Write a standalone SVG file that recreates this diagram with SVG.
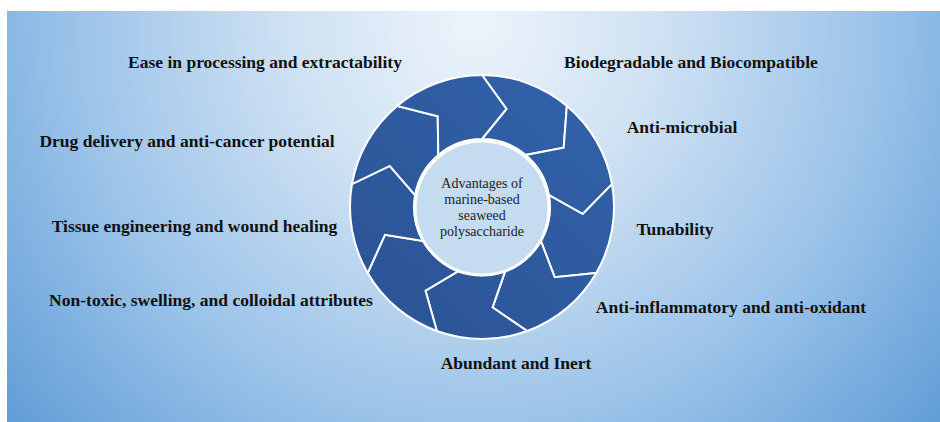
<svg xmlns="http://www.w3.org/2000/svg" width="940" height="422" viewBox="0 0 940 422">
  <defs>
    <radialGradient id="bgGrad" gradientUnits="userSpaceOnUse" cx="475" cy="25" r="620">
      <stop offset="0" stop-color="#edf4fb"/>
      <stop offset="0.3" stop-color="#cfe1f3"/>
      <stop offset="0.65" stop-color="#9bc3e9"/>
      <stop offset="1" stop-color="#5f9cd6"/>
    </radialGradient>
    <linearGradient id="segGrad" gradientUnits="userSpaceOnUse" x1="600" y1="80" x2="370" y2="330">
      <stop offset="0" stop-color="#3262aa"/>
      <stop offset="1" stop-color="#2b5394"/>
    </linearGradient>
  </defs>
  <style>
    .seg { fill: url(#segGrad); stroke: #ffffff; stroke-width: 2; stroke-linejoin: miter; }
    .label { font-family: "Liberation Serif", "Times New Roman", serif; font-weight: bold; font-size: 17.5px; fill: #111111; text-anchor: middle; }
    .center-text { font-family: "Liberation Serif", "Times New Roman", serif; font-size: 14px; fill: #222222; text-anchor: middle; }
  </style>

  <rect x="0" y="0" width="940" height="422" fill="#ffffff"/>
  <rect id="background" x="7" y="11" width="933" height="411" fill="url(#bgGrad)"/>

  <g id="ring">
    <g id="seg0"><path class="seg" d="M 482 75 A 132 132 0 0 1 566.85 105.89 L 563.71 147.63 L 525.71 154.91 A 68 68 0 0 0 482 139 L 506.43 109 Z"/></g>
    <g id="seg1"><path class="seg" d="M 566.85 105.89 A 132 132 0 0 1 612 184.08 L 582.76 214.05 L 548.97 195.2 A 68 68 0 0 0 525.71 154.91 L 563.71 147.63 Z"/></g>
    <g id="seg2"><path class="seg" d="M 612 184.08 A 132 132 0 0 1 596.31 273 L 554.65 277.16 L 540.89 241 A 68 68 0 0 0 548.97 195.2 L 582.76 214.05 Z"/></g>
    <g id="seg3"><path class="seg" d="M 596.31 273 A 132 132 0 0 1 527.14 331.04 L 492.55 307.44 L 505.26 270.9 A 68 68 0 0 0 540.89 241 L 554.65 277.16 Z"/></g>
    <g id="seg4"><path class="seg" d="M 527.14 331.04 A 132 132 0 0 1 436.86 331.04 L 425.52 290.73 L 458.74 270.9 A 68 68 0 0 0 505.26 270.9 L 492.55 307.44 Z"/></g>
    <g id="seg5"><path class="seg" d="M 436.86 331.04 A 132 132 0 0 1 367.69 273 L 384.91 234.84 L 423.11 241 A 68 68 0 0 0 458.74 270.9 L 425.52 290.73 Z"/></g>
    <g id="seg6"><path class="seg" d="M 367.69 273 A 132 132 0 0 1 352 184.08 L 389.74 165.92 L 415.03 195.2 A 68 68 0 0 0 423.11 241 L 384.91 234.84 Z"/></g>
    <g id="seg7"><path class="seg" d="M 352 184.08 A 132 132 0 0 1 397.15 105.89 L 437.72 116.22 L 438.29 154.91 A 68 68 0 0 0 415.03 195.2 L 389.74 165.92 Z"/></g>
    <g id="seg8"><path class="seg" d="M 397.15 105.89 A 132 132 0 0 1 482 75 L 506.43 109 L 482 139 A 68 68 0 0 0 438.29 154.91 L 437.72 116.22 Z"/></g>
  </g>

  <g id="connectors"></g>

  <g id="center">
    <circle cx="482" cy="208" r="67" fill="#c5dbf0" stroke="#ffffff" stroke-width="3"/>
    <text class="center-text" x="482" y="188">Advantages of</text>
    <text class="center-text" x="482" y="204">marine-based</text>
    <text class="center-text" x="482" y="220">seaweed</text>
    <text class="center-text" x="482" y="236">polysaccharide</text>
  </g>

  <g id="label-ease"><text class="label" x="265" y="68">Ease in processing and extractability</text></g>
  <g id="label-biodegradable"><text class="label" x="691" y="68">Biodegradable and Biocompatible</text></g>
  <g id="label-antimicrobial"><text class="label" x="682" y="133">Anti-microbial</text></g>
  <g id="label-drug"><text class="label" x="187" y="147">Drug delivery and anti-cancer potential</text></g>
  <g id="label-tissue"><text class="label" x="194.5" y="232">Tissue engineering and wound healing</text></g>
  <g id="label-tunability"><text class="label" x="675" y="235">Tunability</text></g>
  <g id="label-nontoxic"><text class="label" x="211" y="306">Non-toxic, swelling, and colloidal attributes</text></g>
  <g id="label-antiinflammatory"><text class="label" x="731" y="313">Anti-inflammatory and anti-oxidant</text></g>
  <g id="label-abundant"><text class="label" x="516" y="369">Abundant and Inert</text></g>
</svg>
